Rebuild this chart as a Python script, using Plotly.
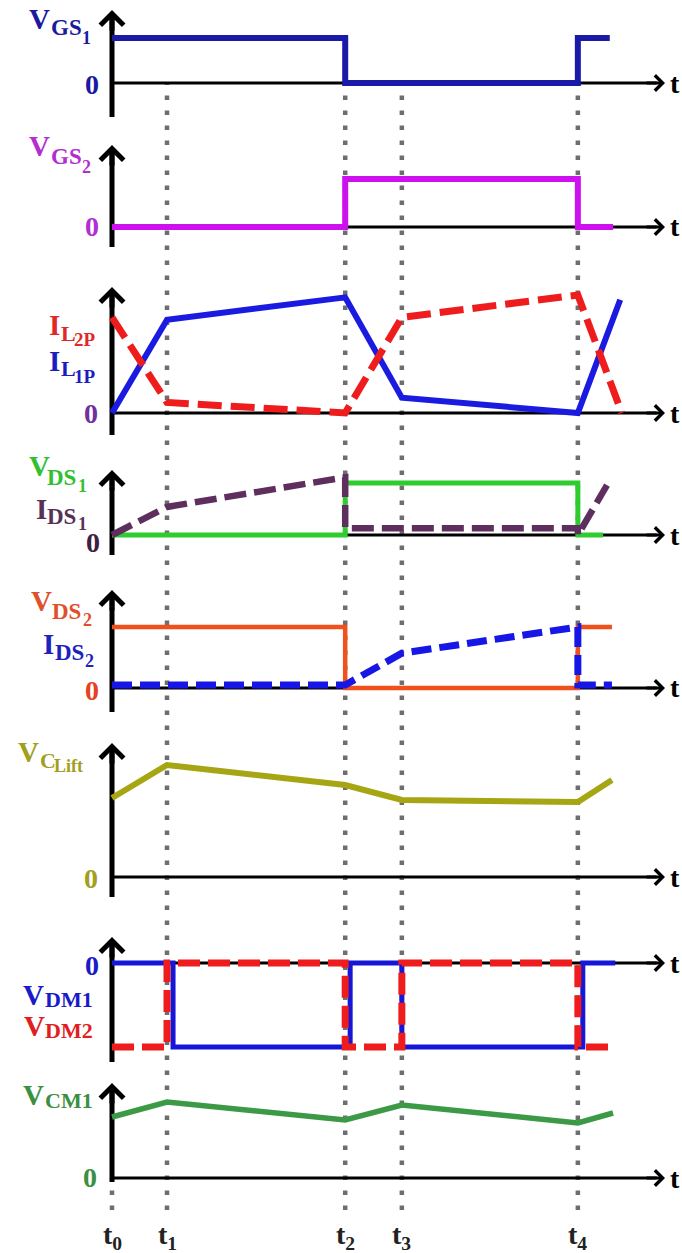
import plotly.graph_objects as go

W, H = 682, 1253

# ---------------- data ----------------
t_labels = ["t<sub>0</sub>", "t<sub>1</sub>", "t<sub>2</sub>", "t<sub>3</sub>", "t<sub>4</sub>"]
T = [0.0, 1.0, 4.24, 5.27, 8.47]

vgs1_x = [T[0], T[2], T[2], T[4], T[4], 9.05]
vgs1_y = [1, 1, 0, 0, 1, 1]

vgs2_x = [T[0], T[2], T[2], T[4], T[4], 9.11]
vgs2_y = [0, 0, 1, 1, 0, 0]

il1p_x = [T[0], T[1], T[2], T[3], T[4], 9.24]
il1p_y = [0.0, 0.79, 0.98, 0.13, 0.0, 0.96]
il2p_x = [T[0], T[1], T[2], T[3], T[4], 9.27]
il2p_y = [0.81, 0.09, 0.0, 0.81, 1.0, 0.0]

vds1_x = [T[0], T[2], T[2], T[4], T[4], 8.93]
vds1_y = [0, 0, 1, 1, 0, 0]
ids1_x = [T[0], T[1], T[2], T[2], T[4], T[4], 9.0]
ids1_y = [0.0, 0.54, 1.11, 0.13, 0.13, 0.0, 0.96]

vds2_x = [T[0], T[2], T[2], T[4], T[4], 9.09]
vds2_y = [1, 1, 0, 0, 1, 1]
ids2_x = [T[0], T[2], T[3], T[4], T[4], 9.09]
ids2_y = [0.05, 0.05, 0.57, 1.0, 0.05, 0.05]

vclift_x = [T[0], T[1], T[2], T[3], T[4], 9.09]
vclift_y = [0.79, 1.12, 0.92, 0.77, 0.75, 0.97]

vdm1_x = [T[0], 1.11, 1.11, 4.33, 4.33, T[3], T[3], 8.56, 8.56, 9.15]
vdm1_y = [0, 0, -1, -1, 0, 0, -1, -1, 0, 0]
vdm2_x = [T[0], T[1], T[1], T[2], T[2], T[3], T[3], T[4], T[4], 9.15]
vdm2_y = [-1, -1, 0, 0, -1, -1, 0, 0, -1, -1]

vcm1_x = [T[0], T[1], T[2], T[3], T[4], 9.11]
vcm1_y = [0.61, 0.76, 0.58, 0.73, 0.55, 0.65]

# ---------------- geometry (layout only) ----------------
X0_PX, PX_PER_UNIT = 112, 55.0
X_ARROW_END = (665 - X0_PX) / PX_PER_UNIT

# baseline px, px per unit, arrow tip px, axis bottom px
panels = [
    dict(b=83, s=45, tip=10, bot=117),
    dict(b=227, s=48, tip=145, bot=247),
    dict(b=413, s=118, tip=287, bot=435),
    dict(b=535, s=52, tip=470, bot=555),
    dict(b=688, s=61, tip=590, bot=712),
    dict(b=877, s=100, tip=743, bot=897),
    dict(b=963, s=84, tip=937, bot=1062),
    dict(b=1178, s=100, tip=1083, bot=1182),
]

def yname(i):
    return "y" if i == 0 else f"y{i+1}"

def px2py(py):
    return 1 - py / H

fig = go.Figure()

series = [
    (vgs1_x, vgs1_y, 0, "#1a1aa8", 6, "solid"),
    (vgs2_x, vgs2_y, 1, "#cc11ee", 6, "solid"),
    (il1p_x, il1p_y, 2, "#1a1ae0", 6, "solid"),
    (il2p_x, il2p_y, 2, "#ee1c1c", 7, "24px,9px"),
    (vds1_x, vds1_y, 3, "#2ecc2e", 5, "solid"),
    (ids1_x, ids1_y, 3, "#5e2e5e", 6.5, "22px,8px"),
    (vds2_x, vds2_y, 4, "#f0501c", 4.5, "solid"),
    (ids2_x, ids2_y, 4, "#1616e6", 7, "20px,8px"),
    (vclift_x, vclift_y, 5, "#a6a614", 6, "solid"),
    (vdm1_x, vdm1_y, 6, "#1616d8", 5, "solid"),
    (vdm2_x, vdm2_y, 6, "#ee1c1c", 7, "22px,8px"),
    (vcm1_x, vcm1_y, 7, "#3c9a46", 5.5, "solid"),
]
for xs, ys, p, col, w, dash in series:
    fig.add_trace(go.Scatter(x=xs, y=ys, mode="lines", yaxis=yname(p), xaxis="x",
                             line=dict(color=col, width=w, dash=dash),
                             hoverinfo="skip", showlegend=False))

layout = dict(
    width=W, height=H, margin=dict(l=0, r=0, t=0, b=0),
    paper_bgcolor="white", plot_bgcolor="rgba(0,0,0,0)", showlegend=False,
    xaxis=dict(domain=[0, 1], range=[-X0_PX / PX_PER_UNIT, (W - X0_PX) / PX_PER_UNIT],
               visible=False, fixedrange=True),
)
shapes, annotations = [], []
for i, p in enumerate(panels):
    top_px, bot_px = p["tip"] - 6, p["bot"] + 6
    key = "yaxis" if i == 0 else f"yaxis{i+1}"
    layout[key] = dict(domain=[px2py(bot_px), px2py(top_px)],
                       range=[-(bot_px - p["b"]) / p["s"], (p["b"] - top_px) / p["s"]],
                       visible=False, fixedrange=True, anchor="x")
    yr = yname(i)
    v_top = (p["b"] - p["tip"]) / p["s"]
    v_bot = -(p["bot"] - p["b"]) / p["s"]
    # horizontal axis
    shapes.append(dict(type="line", xref="x", yref=yr, x0=0, x1=X_ARROW_END - 0.15,
                       y0=0, y1=0, line=dict(color="black", width=3), layer="below"))
    # vertical axis
    shapes.append(dict(type="line", xref="x", yref=yr, x0=0, x1=0,
                       y0=v_bot, y1=v_top - 8 / p["s"], line=dict(color="black", width=5),
                       layer="below"))
    annotations.append(dict(x=X_ARROW_END, y=0, xref="x", yref=yr, ax=-20, ay=0,
                            text="", showarrow=True, arrowhead=4, arrowsize=1,
                            arrowwidth=3, arrowcolor="black", standoff=0))
    annotations.append(dict(x=0, y=v_top, xref="x", yref=yr, ax=0, ay=22,
                            text="", showarrow=True, arrowhead=4, arrowsize=0.9,
                            arrowwidth=5, arrowcolor="black", standoff=0))
    # right "t"
    annotations.append(dict(x=668 / W, y=0, xref="paper", yref=yr, text="t",
                            showarrow=False, xanchor="left", yanchor="middle",
                            font=dict(family="Liberation Serif", size=28, color="black",
                                      weight="bold")))

# dotted time markers
for k, tv in enumerate(T):
    top = 1178 if k == 0 else 83
    shapes.append(dict(type="line", xref="x", yref="paper", x0=tv, x1=tv,
                       y0=px2py(1210), y1=px2py(top),
                       line=dict(color="#6e6e6e", width=4.5, dash="4.5px,10.5px"),
                       layer="below"))
    annotations.append(dict(x=tv, y=px2py(1236), xref="x", yref="paper", text=t_labels[k],
                            showarrow=False, xanchor="center", yanchor="middle",
                            font=dict(family="Liberation Serif", size=28, color="#222222",
                                      weight="bold")))

def lab(text, x_px, y_px, size, color, xanchor="left"):
    annotations.append(dict(x=x_px / W, y=px2py(y_px), xref="paper", yref="paper",
                            text=text, showarrow=False, xanchor=xanchor, yanchor="middle",
                            font=dict(family="Liberation Serif", size=size, color=color,
                                      weight="bold")))

# panel 1
c = "#1a1aa0"
lab("V", 27, 19, 29, c); lab("GS", 49, 28, 23, c); lab("1", 80, 38, 18, c)
lab("0", 92, 84, 28, c, "center")
# panel 2
c = "#b22ed0"
lab("V", 27, 146, 29, c); lab("GS", 49, 156, 23, c); lab("2", 80, 167, 18, c)
lab("0", 92, 226, 28, c, "center")
# panel 3
c = "#e02828"
lab("I", 47, 325, 29, c); lab("L", 59, 334, 22, c); lab("2P", 72, 340, 19, c)
c = "#1c1cc0"
lab("I", 47, 361, 29, c); lab("L", 59, 369, 22, c); lab("1P", 72, 376, 19, c)
lab("0", 91, 413, 28, "#7030a0", "center")
# panel 4
c = "#30c030"
lab("V", 27, 466, 29, c); lab("DS", 45, 477, 23, c); lab("1", 76, 486, 18, c)
c = "#583058"
lab("I", 34, 509, 29, c); lab("DS", 45, 516, 23, c); lab("1", 76, 524, 18, c)
lab("0", 93, 542, 28, "#402040", "center")
# panel 5
c = "#e0502a"
lab("V", 29, 601, 29, c); lab("DS", 50, 611, 23, c); lab("2", 81, 620, 18, c)
c = "#2020c0"
lab("I", 41, 644, 29, c); lab("DS", 53, 652, 23, c); lab("2", 83, 661, 18, c)
lab("0", 92, 690, 28, "#e84020", "center")
# panel 6
c = "#a0a020"
lab("V", 16, 752, 29, c); lab("C", 38, 761, 22, c); lab("Lift", 52, 766, 18, c)
lab("0", 91, 878, 28, c, "center")
# panel 7
lab("0", 92, 965, 28, "#1a1ac8", "center")
lab("V", 21, 995, 29, "#1a1ac8"); lab("DM1", 43, 999, 22, "#1a1ac8")
lab("V", 22, 1026, 29, "#e02020"); lab("DM2", 43, 1030, 22, "#e02020")
# panel 8
c = "#3a9040"
lab("V", 21, 1095, 29, c); lab("CM1", 43, 1100, 22, c)
lab("0", 90, 1177, 28, c, "center")

layout["shapes"] = shapes
layout["annotations"] = annotations
fig.update_layout(**layout)
fig.write_html("out.html")
